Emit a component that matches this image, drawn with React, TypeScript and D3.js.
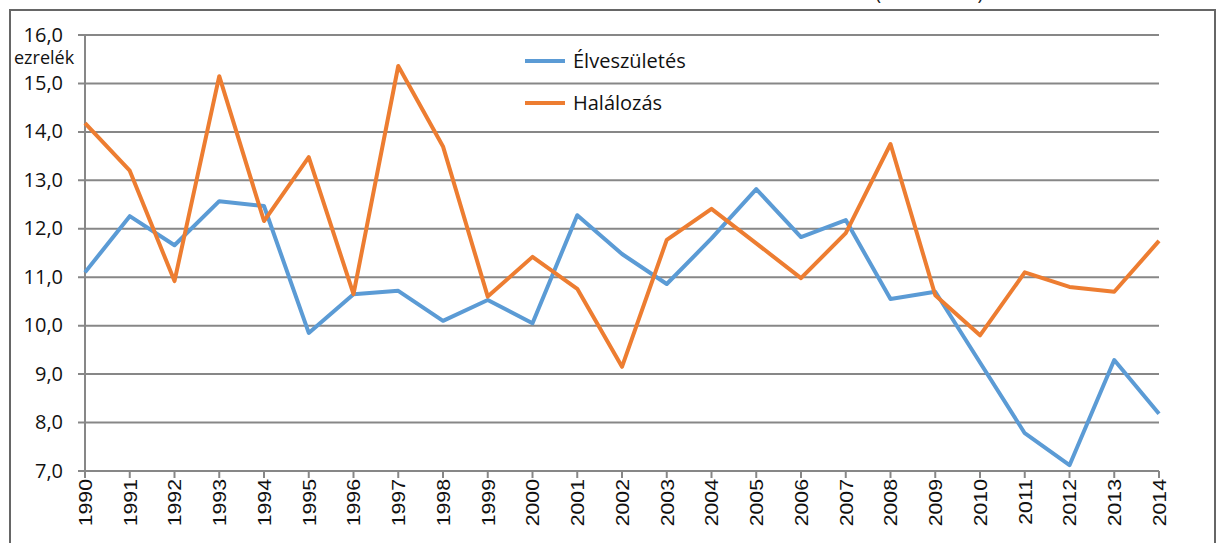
import { line, range, scaleLinear, scalePoint } from "d3";

const years = range(1990, 2015).map(String);

const births = [
  11.1, 12.26, 11.66, 12.57, 12.47, 9.85, 10.65, 10.72, 10.1, 10.53, 10.05, 12.28, 11.48,
  10.86, 11.8, 12.82, 11.83, 12.18, 10.55, 10.7, 9.24, 7.78, 7.12, 9.29, 8.18,
];

const deaths = [
  14.18, 13.2, 10.92, 15.15, 12.16, 13.48, 10.65, 15.36, 13.7, 10.6, 11.42, 10.76, 9.15,
  11.77, 12.41, 11.7, 10.98, 11.91, 13.75, 10.63, 9.8, 11.1, 10.8, 10.7, 11.75,
];

const yTicks = [7, 8, 9, 10, 11, 12, 13, 14, 15, 16];

const series = [
  { name: "Élveszületés", values: births, color: "#5B9BD5" },
  { name: "Halálozás", values: deaths, color: "#ED7D31" },
];

const W = 1217;
const H = 543;

const App = () => {
  const x = scalePoint<string>().domain(years).range([85, 1159]);
  const y = scaleLinear().domain([7, 16]).range([471, 35]);

  const path = line<number>()
    .x((_, i) => x(years[i])!)
    .y((d) => y(d));

  const grid = "#878787";
  const sans = "'Open Sans', 'Noto Sans', sans-serif";

  return (
    <svg width={W} height={H} style={{ position: "absolute", left: 0, top: 0, background: "#fff" }}>
      {/* title sits above the crop, only the bottom of the brackets shows */}
      <text x={983} y={0} textAnchor="end" fontSize={19} fontFamily={sans} fill="#222">
        Élveszületések és halálozások alakulása (1990–2014)
      </text>
      <rect x={10} y={10} width={1205} height={560} fill="none" stroke="#666" strokeWidth={2} />

      {yTicks.map((t) => (
        <g key={t}>
          <line x1={78} x2={1159} y1={y(t)} y2={y(t)} stroke={grid} strokeWidth={2} />
          <text
            x={63}
            y={y(t)}
            dy="0.33em"
            textAnchor="end"
            fontSize={20}
            fontFamily={sans}
            fill="#111"
          >
            {t.toFixed(1).replace(".", ",")}
          </text>
        </g>
      ))}
      <text x={14} y={64} fontSize={18} fontFamily={sans} fill="#111">
        ezrelék
      </text>

      <line x1={85} x2={85} y1={35} y2={471} stroke={grid} strokeWidth={2} />
      {years.map((yr) => (
        <g key={yr} transform={`translate(${x(yr)},471)`}>
          <line y1={0} y2={7} stroke={grid} strokeWidth={2} />
          <text
            transform="translate(0,8) rotate(-90) scale(1.12,1)"
            dy="0.36em"
            textAnchor="end"
            fontSize={19}
            fontFamily="'Liberation Sans', Arial, sans-serif"
            fill="#111"
          >
            {yr}
          </text>
        </g>
      ))}

      {series.map((s) => (
        <path
          key={s.name}
          d={path(s.values)!}
          fill="none"
          stroke={s.color}
          strokeWidth={4}
          strokeLinejoin="round"
        />
      ))}

      {series.map((s, i) => (
        <g key={s.name} transform={`translate(525,${61 + i * 42})`}>
          <line x1={0} x2={40} stroke={s.color} strokeWidth={4} />
          <text x={48} dy="0.35em" fontSize={20} fontFamily={sans} fill="#111">
            {s.name}
          </text>
        </g>
      ))}
    </svg>
  );
};

export default App;
